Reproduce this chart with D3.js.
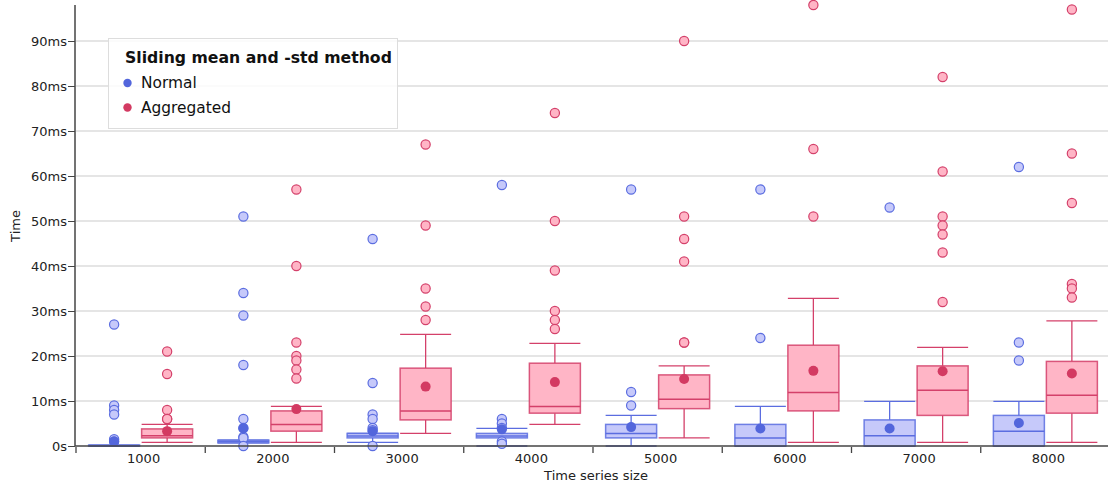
<!DOCTYPE html>
<html>
<head>
<meta charset="utf-8">
<script src="https://cdn.jsdelivr.net/npm/d3@7/dist/d3.min.js"></script>
<style>
  html, body { margin: 0; padding: 0; background: #fff; }
  svg { display: block; font-family: "DejaVu Sans", sans-serif; }
</style>
</head>
<body>
<svg id="chart" width="1108" height="486"></svg>
<script>
// Time series sizes on the x axis
const sizes = ["1000", "2000", "3000", "4000", "5000", "6000", "7000", "8000"];
const yTicks = [0, 10, 20, 30, 40, 50, 60, 70, 80, 90];
const seriesNames = ["Normal", "Aggregated"];

// Box statistics in ms, one value per size
const normalLow    = [0,   0.7, 0.8, 0,   0,   0,   0,   0];
const normalQ1     = [0,   0.7, 1.8, 1.8, 1.8, 0,   0,   0];
const normalMedian = [0,   1.0, 2.2, 2.2, 2.8, 1.8, 2.3, 3.3];
const normalQ3     = [0.2, 1.3, 2.8, 2.8, 4.8, 4.8, 5.8, 6.8];
const normalHigh   = [0.2, 1.3, 2.8, 3.9, 6.8, 8.8, 9.9, 9.9];
const normalMean   = [1.0, 3.9, 3.3, 3.7, 4.2, 3.9, 3.9, 5.1];
const normalOutliers = [
  [27, 9, 8, 7, 1.5, 1],
  [51, 34, 29, 18, 6, 4, 2, 1.8, 0],
  [46, 14, 7, 6, 4, 3.5, 0],
  [58, 6, 5, 4, 1, 0.5],
  [57, 12, 9],
  [57, 24],
  [53],
  [62, 23, 19]
];

const aggLow    = [0.8, 0.8, 2.8,  4.8,  1.8,  0.8,  0.8,  0.8];
const aggQ1     = [1.8, 3.3, 5.8,  7.3,  8.3,  7.8,  6.8,  7.3];
const aggMedian = [2.3, 4.8, 7.8,  8.8,  10.4, 11.9, 12.4, 11.3];
const aggQ3     = [3.8, 7.8, 17.3, 18.4, 15.8, 22.4, 17.8, 18.8];
const aggHigh   = [4.8, 8.8, 24.8, 22.8, 17.8, 32.8, 21.9, 27.8];
const aggMean   = [3.3, 8.2, 13.2, 14.2, 14.9, 16.7, 16.6, 16.1];
const aggOutliers = [
  [21, 16, 8, 6, 6],
  [57, 40, 23, 20, 19, 17, 15],
  [67, 49, 35, 31, 28],
  [74, 50, 39, 30, 28, 26],
  [90, 51, 46, 41, 23, 23],
  [98, 66, 51],
  [82, 61, 51, 49, 47, 43, 32],
  [97, 65, 54, 36, 35, 33]
];

const styles = {
  Normal:     { fill: "#c6c9fa", stroke: "#5b6de0", mean: "#5366dc", offset: -1 },
  Aggregated: { fill: "#ffb5c6", stroke: "#d4406a", mean: "#d33a62", offset: 1 }
};

function buildSeries(name, low, q1, med, q3, high, mean, outs) {
  return sizes.map((s, i) => ({
    series: name, size: s,
    low: low[i], q1: q1[i], median: med[i], q3: q3[i], high: high[i],
    mean: mean[i], outliers: outs[i]
  }));
}
const boxes = [
  ...buildSeries("Normal", normalLow, normalQ1, normalMedian, normalQ3, normalHigh, normalMean, normalOutliers),
  ...buildSeries("Aggregated", aggLow, aggQ1, aggMedian, aggQ3, aggHigh, aggMean, aggOutliers)
];

const svg = d3.select("#chart");
const plotLeft = 76, plotRight = 1110, plotTop = 5, plotBottom = 446;

const x = d3.scaleBand().domain(sizes).range([plotLeft, plotRight]).padding(0);
const y = d3.scaleLinear().domain([0, 98]).range([plotBottom, plotTop]);

const boxW = 51;
const shift = 26.5;
const cx = d => x(d.size) + x.bandwidth() / 2 + styles[d.series].offset * shift;

// Horizontal gridlines
svg.append("g")
  .selectAll("line")
  .data(yTicks.filter(v => v > 0))
  .join("line")
  .attr("x1", plotLeft).attr("x2", 1108)
  .attr("y1", d => y(d)).attr("y2", d => y(d))
  .attr("stroke", "#dcdcdc").attr("stroke-width", 1.5);

// Box plots
const g = svg.append("g");
const bx = g.selectAll("g.box").data(boxes).join("g").attr("class", "box");

// whiskers
bx.append("line")
  .attr("x1", cx).attr("x2", cx)
  .attr("y1", d => y(d.q3)).attr("y2", d => y(d.high))
  .attr("stroke", d => styles[d.series].stroke).attr("stroke-width", 1.3);
bx.append("line")
  .attr("x1", cx).attr("x2", cx)
  .attr("y1", d => y(d.q1)).attr("y2", d => y(d.low))
  .attr("stroke", d => styles[d.series].stroke).attr("stroke-width", 1.3);
bx.append("line")
  .attr("x1", d => cx(d) - boxW / 2).attr("x2", d => cx(d) + boxW / 2)
  .attr("y1", d => y(d.high)).attr("y2", d => y(d.high))
  .attr("stroke", d => styles[d.series].stroke).attr("stroke-width", 1.3);
bx.append("line")
  .attr("x1", d => cx(d) - boxW / 2).attr("x2", d => cx(d) + boxW / 2)
  .attr("y1", d => y(d.low)).attr("y2", d => y(d.low))
  .attr("stroke", d => styles[d.series].stroke).attr("stroke-width", 1.3);

// box body
bx.append("rect")
  .attr("x", d => cx(d) - boxW / 2)
  .attr("y", d => y(d.q3))
  .attr("width", boxW)
  .attr("height", d => Math.max(0, y(d.q1) - y(d.q3)))
  .attr("fill", d => styles[d.series].fill)
  .attr("stroke", d => styles[d.series].stroke)
  .attr("stroke-opacity", 0.85)
  .attr("stroke-width", 1.5);

// median
bx.append("line")
  .attr("x1", d => cx(d) - boxW / 2).attr("x2", d => cx(d) + boxW / 2)
  .attr("y1", d => y(d.median)).attr("y2", d => y(d.median))
  .attr("stroke", d => styles[d.series].stroke).attr("stroke-width", 1.5);

// outliers
bx.selectAll("circle.out")
  .data(d => d.outliers.map(v => ({ v, d })))
  .join("circle")
  .attr("class", "out")
  .attr("cx", o => cx(o.d))
  .attr("cy", o => y(o.v))
  .attr("r", 4.6)
  .attr("fill", o => styles[o.d.series].fill)
  .attr("stroke", o => styles[o.d.series].stroke)
  .attr("stroke-width", 1.2);

// mean markers
bx.append("circle")
  .attr("cx", cx)
  .attr("cy", d => y(d.mean))
  .attr("r", 5)
  .attr("fill", d => styles[d.series].mean);

// Y axis
const yAxis = d3.axisLeft(y)
  .tickValues(yTicks)
  .tickSize(7)
  .tickPadding(1)
  .tickFormat(v => v === 0 ? "0s" : v + "ms");
const ya = svg.append("g").attr("transform", `translate(${plotLeft - 1},0)`).call(yAxis);
ya.select(".domain").attr("stroke", "#444").attr("stroke-width", 1.5).attr("d", `M0,${plotTop}V${plotBottom}`);
ya.selectAll(".tick line").attr("stroke", "#444");
ya.selectAll(".tick text").attr("font-size", 13).attr("fill", "#222").attr("font-family", "DejaVu Sans");

// X axis
const xAxis = d3.axisBottom(x).tickSize(0).tickPadding(8);
const xa = svg.append("g").attr("transform", `translate(0,${plotBottom})`).call(xAxis);
xa.select(".domain").attr("stroke", "#444").attr("stroke-width", 1.5).attr("d", `M${plotLeft - 1},0H1108`);
xa.selectAll(".tick text").attr("font-size", 13).attr("fill", "#222").attr("dx", 3).attr("font-family", "DejaVu Sans");
xa.append("g").selectAll("line")
  .data(sizes)
  .join("line")
  .attr("x1", d => x(d)).attr("x2", d => x(d))
  .attr("y1", 1).attr("y2", 7)
  .attr("stroke", "#444").attr("stroke-width", 1.3);

// Axis titles
svg.append("text")
  .attr("x", 596).attr("y", 480)
  .attr("text-anchor", "middle")
  .attr("font-size", 13).attr("fill", "#222")
  .text("Time series size");
svg.append("text")
  .attr("transform", "translate(20,226) rotate(-90)")
  .attr("text-anchor", "middle")
  .attr("font-size", 13).attr("fill", "#222")
  .text("Time");

// Legend
const lg = svg.append("g");
lg.append("rect")
  .attr("x", 108.5).attr("y", 38.5).attr("width", 289).attr("height", 90)
  .attr("fill", "rgba(255,255,255,0.85)").attr("stroke", "#dddddd").attr("stroke-width", 1);
lg.append("text")
  .attr("x", 125).attr("y", 63)
  .attr("font-size", 15.7).attr("font-weight", "bold").attr("fill", "#111")
  .text("Sliding mean and -std method");
seriesNames.forEach((name, i) => {
  lg.append("circle")
    .attr("cx", 127.5).attr("cy", 83 + i * 24.5).attr("r", 4.2)
    .attr("fill", styles[name].mean);
  lg.append("text")
    .attr("x", 141).attr("y", 88 + i * 24.5)
    .attr("font-size", 15.4).attr("fill", "#111")
    .text(name);
});
</script>
</body>
</html>
